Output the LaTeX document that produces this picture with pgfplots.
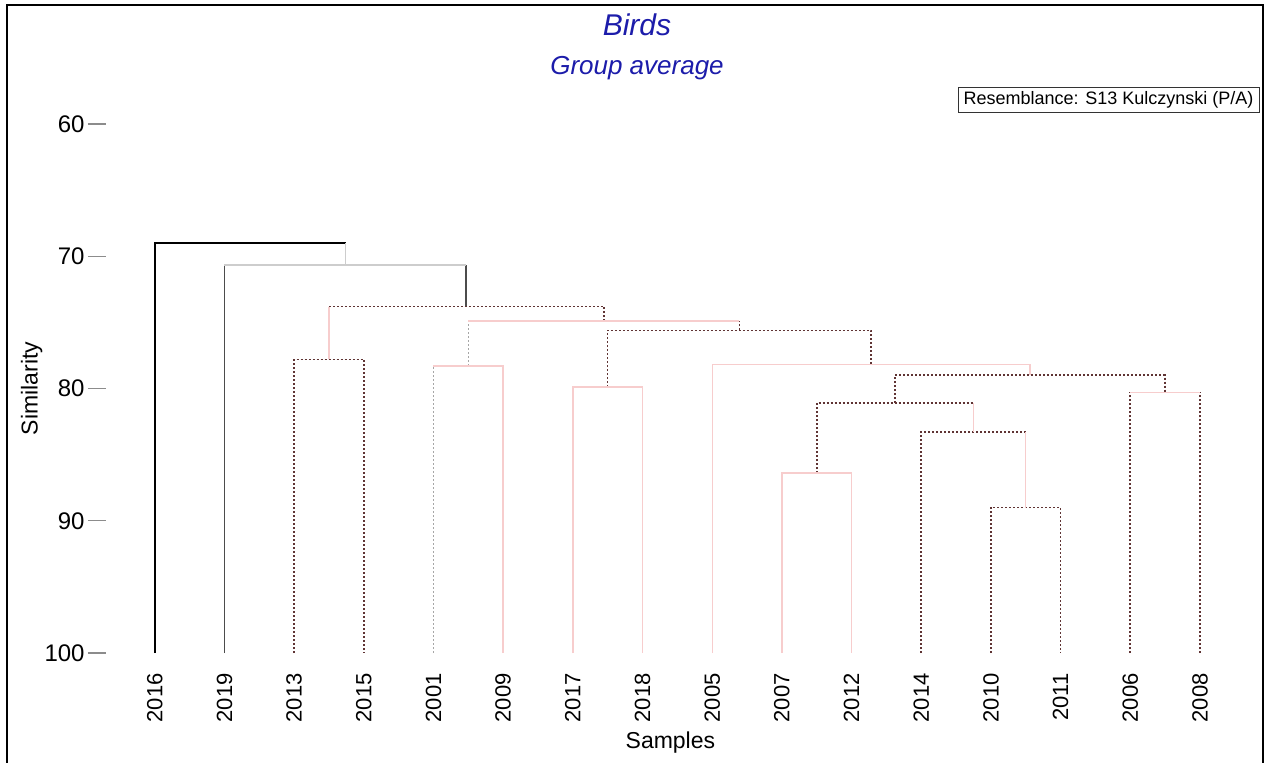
\documentclass[border=0pt]{standalone}
\usepackage{fontspec}
\setmainfont{Liberation Sans}
\usepackage{pgfplots}
\pgfplotsset{compat=1.18}

\definecolor{titleblue}{RGB}{28,28,170}
\definecolor{nsdot}{RGB}{96,52,52}
\definecolor{sigpink}{RGB}{247,205,205}
\definecolor{lightgrey}{RGB}{205,205,205}

\begin{document}
\begin{tikzpicture}
% page = 1270 x 762 px, 1 px = 0.5pt
\path[use as bounding box] (0pt,0pt) rectangle (635pt,-381pt);

\begin{axis}[
    at={(53pt,-326.5pt)}, anchor=south west,
    scale only axis,
    width=564.4pt, height=264.5pt,
    xmin=0.3, xmax=16.5,
    ymin=60, ymax=100,
    y dir=reverse,
    clip=false,
    axis lines=left,
    axis line style={draw=none},
    xtick={1,...,16},
    xticklabels={2016,2019,2013,2015,2001,2009,2017,2018,2005,2007,2012,2014,2010,2011,2006,2008},
    xtick style={draw=none},
    ytick={60,70,80,90,100},
    tick align=outside,
    ytick style={draw=black!45, line width=0.6pt},
    major tick length=9pt,
    /pgf/number format/assume math mode=true,
    xticklabel style={font=\fontsize{11}{13}\selectfont, rotate=90, anchor=east, inner sep=1pt},
    yticklabel style={font=\fontsize{12}{14}\selectfont, inner sep=1.5pt},
    xlabel={Samples},
    ylabel={Similarity},
    ylabel style={yshift=-4pt},
    label style={font=\fontsize{11.5}{13}\selectfont},
]

% solid black: 2016 and the top link
\addplot[black, line width=0.9pt] coordinates {(1,100) (1,69) (3.74,69)};
% solid grey
\addplot[black!70, line width=0.8pt] coordinates {(2,100) (2,70.66)};
\addplot[black!70, line width=0.8pt] coordinates {(5.47,73.8) (5.47,70.66)};
\addplot[lightgrey, line width=0.7pt] coordinates {(2,70.66) (5.47,70.66)};
\addplot[lightgrey, line width=0.7pt] coordinates {(3.74,70.66) (3.74,69)};

% dotted, not significant
\addplot[nsdot, line width=0.8pt, dash pattern=on 1pt off 1pt] coordinates {(3.5,73.8) (7.445,73.8)};
\addplot[nsdot, line width=0.8pt, dash pattern=on 1pt off 1pt] coordinates {(3,100) (3,77.8) (4,77.8) (4,100)};
\addplot[nsdot, line width=0.8pt, dash pattern=on 1pt off 1pt] coordinates {(7.445,74.9) (7.445,73.8)};
\addplot[nsdot, line width=0.8pt, dash pattern=on 1pt off 1pt] coordinates {(9.39,75.6) (9.39,74.9)};
\addplot[nsdot, line width=0.8pt, dash pattern=on 1pt off 1pt] coordinates {(7.5,79.9) (7.5,75.6) (11.28,75.6) (11.28,78.2)};
\addplot[nsdot, line width=0.8pt, dash pattern=on 1pt off 1pt] coordinates {(11.625,81.1) (11.625,79) (15.5,79) (15.5,80.3)};
\addplot[nsdot, line width=0.8pt, dash pattern=on 1pt off 1pt] coordinates {(10.5,86.4) (10.5,81.1) (12.75,81.1)};
\addplot[nsdot, line width=0.8pt, dash pattern=on 1pt off 1pt] coordinates {(12,100) (12,83.3) (13.5,83.3)};
\addplot[nsdot, line width=0.8pt, dash pattern=on 1pt off 1pt] coordinates {(13,100) (13,89) (14,89) (14,100)};
\addplot[nsdot, line width=0.8pt, dash pattern=on 1pt off 1pt] coordinates {(15,100) (15,80.3)};
\addplot[nsdot, line width=0.8pt, dash pattern=on 1pt off 1pt] coordinates {(16,100) (16,80.3)};
% faint dotted
\addplot[black!35, line width=0.6pt, dash pattern=on 1pt off 1pt] coordinates {(5,100) (5,78.3)};
\addplot[black!35, line width=0.6pt, dash pattern=on 1pt off 1pt] coordinates {(5.5,78.3) (5.5,74.9)};

% pale solid, significant
\addplot[sigpink, line width=0.7pt] coordinates {(3.5,77.8) (3.5,73.8)};
\addplot[sigpink, line width=0.7pt] coordinates {(5.5,74.9) (9.39,74.9)};
\addplot[sigpink, line width=0.7pt] coordinates {(5,78.3) (6,78.3) (6,100)};
\addplot[sigpink, line width=0.7pt] coordinates {(7,100) (7,79.9) (8,79.9) (8,100)};
\addplot[sigpink, line width=0.7pt] coordinates {(9,100) (9,78.2) (13.56,78.2) (13.56,79)};
\addplot[sigpink, line width=0.7pt] coordinates {(10,100) (10,86.4) (11,86.4) (11,100)};
\addplot[sigpink, line width=0.7pt] coordinates {(12.75,83.3) (12.75,81.1)};
\addplot[sigpink, line width=0.7pt] coordinates {(13.5,89) (13.5,83.3)};
\addplot[sigpink, line width=0.7pt] coordinates {(15,80.3) (16,80.3)};
\end{axis}

% titles
\node[text=titleblue, font=\fontsize{15}{17}\selectfont\itshape] at (318.5pt,-12.5pt) {Birds};
\node[text=titleblue, font=\fontsize{13}{15}\selectfont\itshape] at (318.5pt,-34pt) {Group average};
\draw[black!80, line width=0.5pt] (479pt,-43.5pt) rectangle (629.5pt,-56pt);
\node[font=\fontsize{9}{11}\selectfont] at (554.25pt,-49.75pt) {Resemblance: S13 Kulczynski (P/A)};

% outer frame
\draw[black, line width=1.2pt] (3.5pt,-400pt) -- (3.5pt,-2.5pt) -- (631.5pt,-2.5pt) -- (631.5pt,-400pt);
\end{tikzpicture}
\end{document}
